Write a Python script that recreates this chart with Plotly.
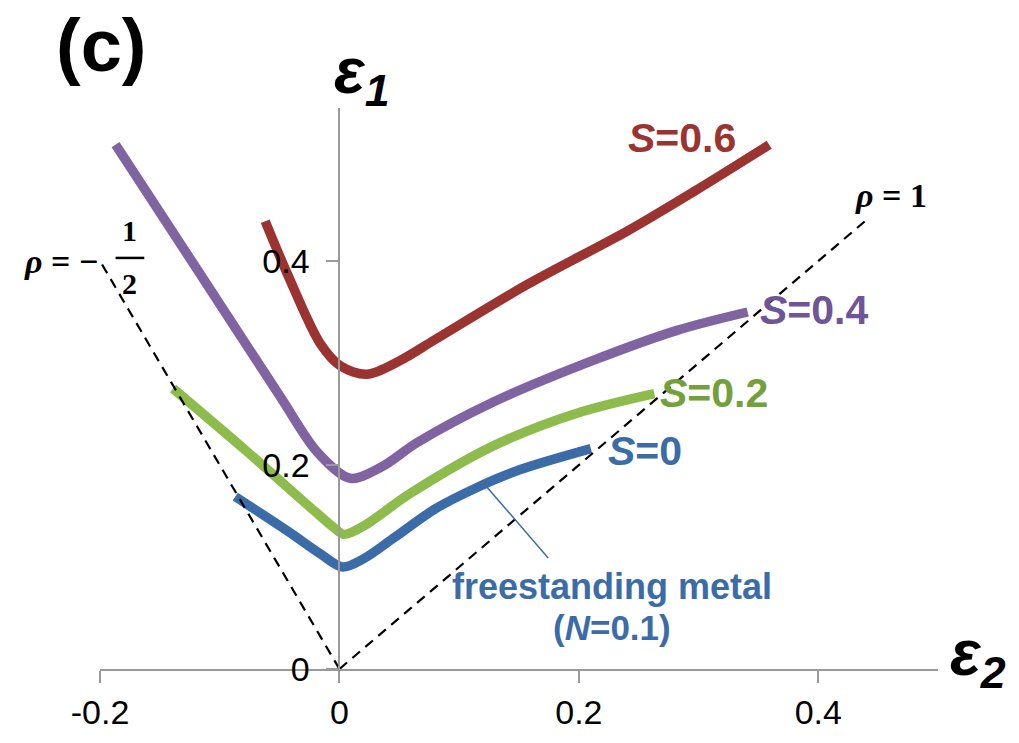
import plotly.graph_objects as go

# ---- data ----
s06_x = [-0.062, -0.043, -0.016, 0.001, 0.023, 0.050, 0.080, 0.157, 0.240, 0.296, 0.359]
s06_y = [0.439, 0.386, 0.319, 0.297, 0.289, 0.302, 0.323, 0.377, 0.429, 0.468, 0.514]

s04_x = [-0.187, -0.119, -0.050, -0.018, 0.009, 0.035, 0.065, 0.129, 0.213, 0.282, 0.341]
s04_y = [0.514, 0.392, 0.268, 0.212, 0.187, 0.198, 0.222, 0.262, 0.303, 0.332, 0.350]

s02_x = [-0.139, -0.078, -0.020, -0.004, 0.004, 0.020, 0.059, 0.129, 0.199, 0.263]
s02_y = [0.275, 0.214, 0.154, 0.138, 0.132, 0.140, 0.172, 0.219, 0.251, 0.270]

s0_x = [-0.087, -0.043, -0.016, 0.0025, 0.020, 0.046, 0.080, 0.115, 0.150, 0.210]
s0_y = [0.169, 0.135, 0.113, 0.100, 0.108, 0.129, 0.157, 0.178, 0.195, 0.216]

rho1_x = [0.0, 0.44]
rho1_y = [0.0, 0.44]
rhoh_x = [0.0, -0.2]
rhoh_y = [0.0, 0.4]

x_ticks = [-0.2, 0, 0.2, 0.4]
x_ticktext = ["-0.2", "0", "0.2", "0.4"]
y_ticks = [0, 0.2, 0.4]
y_ticktext = ["0", "0.2", "0.4"]

RED = "#9B3431"
PURPLE = "#8064A2"
GREEN = "#8DBB4C"
BLUE = "#3C6CA8"

FONT = "Liberation Sans, Arial, sans-serif"
SERIF = "Liberation Serif, DejaVu Serif, serif"

fig = go.Figure()

for xs, ys, c in [(s06_x, s06_y, RED), (s04_x, s04_y, PURPLE),
                  (s02_x, s02_y, GREEN), (s0_x, s0_y, BLUE)]:
    fig.add_trace(go.Scatter(x=xs, y=ys, mode="lines",
                             line=dict(color=c, width=9.5, shape="spline", smoothing=0.9),
                             showlegend=False, hoverinfo="skip", cliponaxis=False))

for xs, ys in [(rho1_x, rho1_y), (rhoh_x, rhoh_y)]:
    fig.add_trace(go.Scatter(x=xs, y=ys, mode="lines",
                             line=dict(color="black", width=2.2, dash="10px,7px"),
                             showlegend=False, hoverinfo="skip", cliponaxis=False))

ann = []
def label(x, y, text, color, size, family=FONT, xref="x", yref="y"):
    ann.append(dict(x=x, y=y, xref=xref, yref=yref, text=text, showarrow=False,
                    font=dict(color=color, size=size, family=family),
                    xanchor="center", yanchor="middle"))

label(0.286, 0.521, "<b><i>S</i>=0.6</b>", RED, 41)
label(0.396, 0.352, "<b><i>S</i>=0.4</b>", "#6E5598", 41)
label(0.313, 0.271, "<b><i>S</i>=0.2</b>", "#72A03A", 41)
label(0.255, 0.214, "<b><i>S</i>=0</b>", BLUE, 41)
label(0.228, 0.081, "<b>freestanding metal</b>", BLUE, 36)
label(0.228, 0.041, "<b>(<i>N</i>=0.1)</b>", BLUE, 35)
label(0.461, 0.464, "<b><i>ρ</i> = 1</b>", "black", 34, SERIF)
label(-0.0465, 0.726, "<b><i>ρ</i> = −</b>", "black", 34, SERIF, xref="paper", yref="paper")
label(-0.175, 0.430, "<b>1</b>", "black", 30, SERIF)
label(-0.175, 0.378, "<b>2</b>", "black", 30, SERIF)
label(0.001, 1.112, "<b>(c)</b>", "black", 74, xref="paper", yref="paper")
label(0.3126, 1.058, "<b><i>ε<sub>1</sub></i></b>", "black", 64, xref="paper", yref="paper")
label(1.048, 0.021, "<b><i>ε<sub>2</sub></i></b>", "black", 64, xref="paper", yref="paper")

# pointer from label to the S=0 curve
ann.append(dict(x=0.122, y=0.180, xref="x", yref="y", text="", showarrow=True,
                arrowhead=0, arrowwidth=1.5, arrowcolor=BLUE, ax=64, ay=74,
                axref="pixel", ayref="pixel"))

fig.update_layout(
    width=1019, height=743,
    margin=dict(l=100, r=81, t=108, b=66),
    paper_bgcolor="white", plot_bgcolor="white",
    annotations=ann,
    shapes=[dict(type="line", xref="x", yref="y", x0=-0.187, x1=-0.163,
                 y0=0.403, y1=0.403, line=dict(color="black", width=2.5))],
    xaxis=dict(range=[-0.2, 0.5], showgrid=False, zeroline=False,
               showline=True, linecolor="#9a9a9a", linewidth=2,
               ticks="outside", ticklen=12, tickwidth=2, tickcolor="#9a9a9a",
               tickvals=x_ticks, ticktext=x_ticktext,
               tickfont=dict(size=34, family=FONT, color="black")),
    yaxis=dict(range=[0, 0.55], showgrid=False, zeroline=False,
               anchor="free", position=2/7,
               showline=True, linecolor="#9a9a9a", linewidth=2,
               ticks="outside", ticklen=12, tickwidth=2, tickcolor="#9a9a9a",
               ticklabelstandoff=10,
               tickvals=y_ticks, ticktext=y_ticktext,
               tickfont=dict(size=34, family=FONT, color="black")),
)

fig.write_html("out.html")
